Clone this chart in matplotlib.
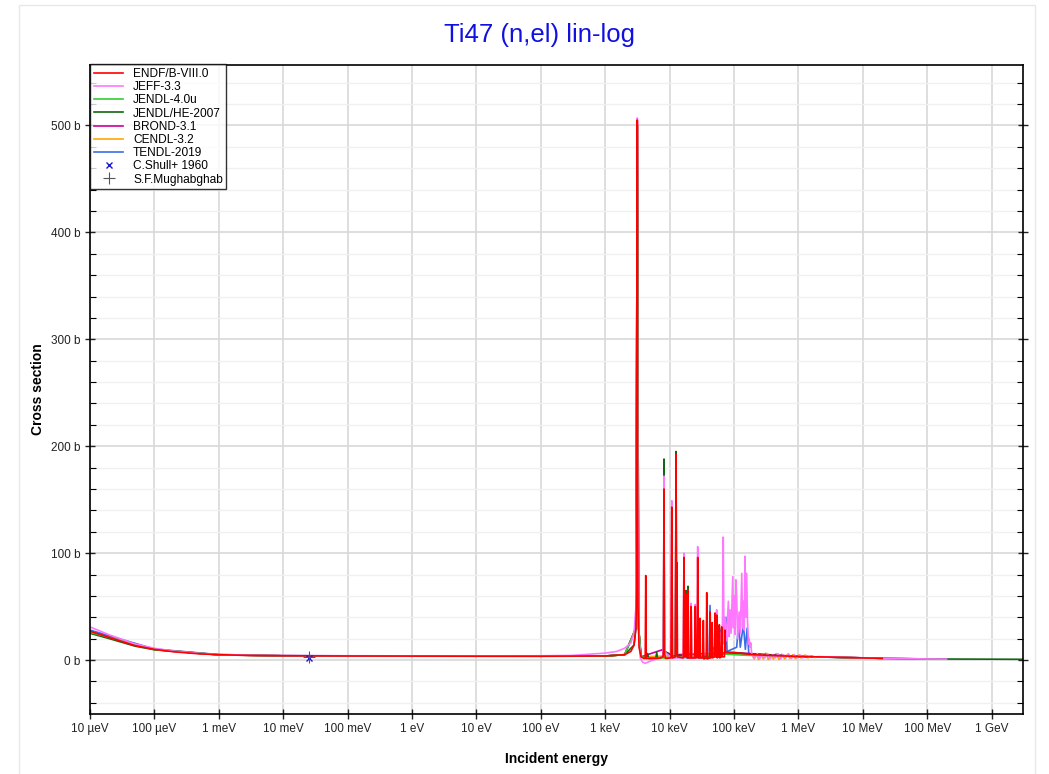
import matplotlib
matplotlib.use("Agg")
import matplotlib.pyplot as plt
from matplotlib.patches import Rectangle
from matplotlib.ticker import MultipleLocator, FixedLocator, FuncFormatter

plt.rcParams['font.family'] = ['Liberation Sans', 'DejaVu Sans']

# ---- data (energy in eV, cross section in barn) ----
endf_e = [1e-5, 2e-5, 5e-5, 1e-4, 2e-4, 5e-4, 1e-3, 3e-3, 1e-2, 1e-1, 1, 10, 100, 1e3, 2e3, 2.5e3, 2.8e3,
          3.0e3, 3.08e3, 3.12e3, 3.15e3, 3.18e3, 3.23e3, 3.35e3, 3.6e3, 4.0e3, 4.18e3, 4.26e3, 4.34e3,
          5.0e3, 7.0e3, 7.9e3, 8.05e3, 8.18e3, 8.3e3, 8.6e3, 10.5e3, 10.8e3, 11.1e3, 12.3e3, 12.6e3,
          12.8e3, 13.0e3, 13.25e3, 16.3e3, 16.7e3, 17.1e3, 17.7e3, 18.0e3, 18.4e3, 18.9e3, 19.3e3,
          19.7e3, 21.2e3, 21.6e3, 22.0e3, 24.5e3, 25.0e3, 25.5e3, 26.8e3, 27.3e3, 27.8e3, 29.0e3,
          29.6e3, 30.2e3, 32.8e3, 33.4e3, 34.0e3, 37.0e3, 37.7e3, 38.4e3, 41.6e3, 42.4e3, 43.2e3,
          45.0e3, 45.8e3, 46.6e3, 49.8e3, 50.7e3, 51.6e3, 52.8e3, 53.8e3, 54.8e3, 58.0e3, 59.1e3,
          60.2e3, 63.2e3, 64.4e3, 65.6e3, 71.0e3, 72.4e3, 73.8e3, 1e5, 2e5, 5e5, 1e6, 3e6, 1e7, 2e7]
endf_xs = [27, 21, 13.5, 10, 7.7, 5.8, 5.0, 4.3, 4.0, 3.8, 3.7, 3.6, 3.6, 3.8, 5, 8, 14,
           30, 70, 160, 505, 160, 50, 12, 3, 1.5, 1.5, 79, 1.5,
           1.5, 1.8, 3, 10, 160, 8, 1.5, 2, 143, 2, 3, 192,
           5, 91, 3, 2, 96, 3, 3, 62, 3, 2, 66,
           2, 2, 50, 2, 2, 50, 2, 3, 96, 2, 2,
           39, 2, 2, 37, 1, 2, 63, 1, 2, 45, 2,
           3, 35, 2, 3, 44, 3, 3, 42, 2, 3, 33,
           2, 3, 31, 3, 3, 28, 7.5, 7, 5, 4, 3.3, 2.8, 2.0, 1.6]

jeff_e = [1e-5, 2e-5, 5e-5, 1e-4, 2e-4, 5e-4, 1e-3, 3e-3, 1e-2, 1e-1, 1, 10, 100, 300, 1e3, 1.5e3, 2e3,
          2.5e3, 2.8e3, 3.0e3, 3.1e3, 3.15e3, 3.2e3, 3.3e3, 3.5e3, 3.8e3, 4.2e3, 5.0e3, 6.5e3, 7.8e3,
          8.05e3, 8.18e3, 8.3e3, 10.5e3, 10.8e3, 11.1e3, 16.3e3, 16.7e3, 17.1e3, 21.2e3, 21.6e3, 22.0e3,
          24.5e3, 25.0e3, 25.5e3, 26.8e3, 27.3e3, 27.8e3, 52.5e3, 53.8e3, 55e3, 60e3, 66e3, 68e3, 70e3,
          72.6e3, 76e3, 81.7e3, 84e3, 86.7e3, 90e3, 95.5e3, 98e3, 101e3, 104e3, 107e3, 110e3, 114e3,
          120e3, 125e3, 132e3, 136e3, 140e3, 144e3, 148e3, 152e3, 157e3, 162e3, 168e3, 172e3, 177e3,
          182e3, 188e3, 195e3, 210e3, 230e3, 250e3, 270e3, 300e3, 330e3, 360e3, 400e3, 440e3, 480e3,
          530e3, 580e3, 640e3, 700e3, 780e3, 860e3, 950e3, 1.05e6, 1.15e6, 1.3e6, 1.45e6, 1.6e6, 1.8e6,
          2e6, 5e6, 2e7, 1e8, 2e8]
jeff_xs = [31, 23.5, 15, 11, 8.3, 6.2, 5.3, 4.5, 4.2, 4.0, 3.9, 3.9, 4.0, 4.3, 6.5, 8, 11,
           16, 25, 50, 150, 507, 150, 30, 2, -2, -3, -1, 1.5, 3,
           15, 172, 8, 2, 149, 2, 2, 100, 3, 2, 53, 2,
           2, 52, 2, 3, 106, 3, 10, 47, 12, 20, 30, 115, 15,
           40, 18, 55, 22, 47, 25, 78, 30, 60, 24, 75, 59, 20,
           45, 25, 81, 30, 55, 28, 97, 40, 81, 37, 15, 20, 12,
           16, 6, 4, 2, 6, 1, 5, 2, 6, 1, 5, 2, 6,
           1, 5, 2, 6, 1.5, 5, 2, 5, 2, 4.5, 2.5, 4, 2.5,
           3.2, 2.6, 1.6, 1.0, 0.9]

jendl4_e = [1e-5, 1e-4, 1e-3, 1e-2, 1, 1e3, 2e3, 3.0e3, 3.15e3, 3.3e3, 3.6e3, 5e3, 8e3,
            75e3, 1e5, 1.5e5, 1e6, 1e7, 2e7]
jendl4_xs = [26, 9.8, 4.9, 4.0, 3.7, 3.8, 5, 30, 500, 30, 3, 1.5, 2,
             5.5, 5, 4.5, 3.3, 2.0, 1.6]

jendlhe_e = [1e-5, 2e-5, 5e-5, 1e-4, 1e-3, 1e-2, 1, 100, 1e3, 2e3, 2.8e3, 3.0e3, 3.15e3, 3.3e3, 3.6e3,
             4.4e3, 4.56e3, 4.7e3, 6.1e3, 6.3e3, 6.5e3, 7.9e3, 8.05e3, 8.18e3, 8.3e3, 12.3e3, 12.6e3,
             12.8e3, 17.7e3, 18.0e3, 18.4e3, 18.9e3, 19.3e3, 19.7e3, 1e5, 1e6, 1e7, 2e7, 1e8, 1e9, 3e9]
jendlhe_xs = [25, 20, 13, 9.6, 4.8, 3.9, 3.6, 3.5, 3.7, 5, 14, 30, 500, 30, 3,
              1.5, 6, 1.5, 1.5, 7, 1.5, 3, 10, 188, 8, 3, 195,
              5, 3, 65, 3, 2, 69, 2, 6.5, 3.3, 2.0, 1.6, 1.0, 0.8, 0.7]

brond_e = [1e-5, 1e-4, 1e-3, 1e-2, 1, 1e3, 2e3, 3.0e3, 3.15e3, 3.3e3, 3.6e3, 8.05e3, 8.18e3, 8.3e3,
           12.3e3, 12.6e3, 12.8e3, 1e5, 1e6, 1e7, 2e7]
brond_xs = [26.5, 9.9, 4.9, 4.0, 3.7, 3.8, 5, 30, 500, 30, 3, 10, 160, 8,
            3, 190, 5, 7, 3.3, 2.0, 1.6]

cendl_e = [1e-5, 1e-4, 1e-3, 1e-2, 1, 1e3, 2e3, 3.0e3, 3.15e3, 3.3e3, 3.6e3, 1e5, 190e3, 205e3,
           220e3, 240e3, 260e3, 285e3, 310e3, 340e3, 375e3, 410e3, 450e3, 500e3, 550e3, 610e3,
           670e3, 740e3, 820e3, 900e3, 1e6, 1.1e6, 1.25e6, 1.4e6, 1.6e6, 1.8e6, 2e6, 1e7, 2e7]
cendl_xs = [26, 9.8, 4.9, 4.0, 3.7, 3.8, 5, 30, 500, 30, 3, 6, 5, 1,
            6, 0.5, 5.5, 1, 6.5, 0.5, 5, 1, 6, 0.5, 5.5, 1,
            5, 1.5, 5, 1.5, 4.5, 2, 4.5, 2, 4, 2.5, 3, 2.0, 1.6]

tendl_e = [1e-5, 1e-4, 1e-3, 1e-2, 1, 1e3, 2e3, 3.0e3, 3.15e3, 3.3e3, 3.6e3, 41e3, 42.4e3, 44e3,
           48e3, 75e3, 78e3, 110e3, 118e3, 125e3, 140e3, 150e3, 160e3, 170e3, 1e6, 1e7, 2e7, 1e8, 2e8]
tendl_xs = [28, 10.3, 5.1, 4.1, 3.7, 3.8, 5, 30, 500, 30, 3, 2, 51, 2,
            10, 40, 8, 12, 35, 12, 33, 10, 30, 5, 3.3, 2.0, 1.6, 1.0, 0.9]

shull_e = [0.0253]
shull_xs = [2.0]
mugh_e = [0.0253]
mugh_xs = [3.3]

libraries = [
    ("TENDL-2019", tendl_e, tendl_xs, "#3a6ee8"),
    ("CENDL-3.2", cendl_e, cendl_xs, "#ffa500"),
    ("BROND-3.1", brond_e, brond_xs, "#cc0099"),
    ("JENDL/HE-2007", jendlhe_e, jendlhe_xs, "#116611"),
    ("JENDL-4.0u", jendl4_e, jendl4_xs, "#33cc33"),
    ("JEFF-3.3", jeff_e, jeff_xs, "#ff77ff"),
    ("ENDF/B-VIII.0", endf_e, endf_xs, "#ff0000"),
]
legend_order = ["ENDF/B-VIII.0", "JEFF-3.3", "JENDL-4.0u", "JENDL/HE-2007",
                "BROND-3.1", "CENDL-3.2", "TENDL-2019", "C.Shull+ 1960", "S.F.Mughabghab"]

tick_pos = [1e-5, 1e-4, 1e-3, 1e-2, 1e-1, 1, 10, 100, 1e3, 1e4, 1e5, 1e6, 1e7, 1e8, 1e9]
tick_lab = ["10 µeV", "100 µeV", "1 meV", "10 meV", "100 meV", "1 eV", "10 eV", "100 eV",
            "1 keV", "10 keV", "100 keV", "1 MeV", "10 MeV", "100 MeV", "1 GeV"]

# ---- figure ----
fig = plt.figure(figsize=(10.49, 7.74), dpi=100)
ax = fig.add_axes([90 / 1049, 1 - 713.5 / 774, (1023 - 90) / 1049, (713.5 - 64.5) / 774])

handles = {}
for name, e, xs, color in libraries:
    line, = ax.plot(e, xs, color=color, lw=1.2, label=name)
    handles[name] = line

handles["C.Shull+ 1960"], = ax.plot(shull_e, shull_xs, ls="none", marker="x", ms=5, mew=1,
                                    color="#1a1acc", label="C.Shull+ 1960", zorder=5)
handles["S.F.Mughabghab"], = ax.plot(mugh_e, mugh_xs, ls="none", marker="+", ms=8, mew=0.8,
                                     color="#555555", label="S.F.Mughabghab", zorder=5)

ax.set_xscale("log")
ax.set_xlim(1e-5, 3.07e9)
ax.set_ylim(-50, 557)

ax.xaxis.set_major_locator(FixedLocator(tick_pos))
ax.set_xticklabels(tick_lab)
ax.xaxis.set_minor_locator(FixedLocator([]))
ax.yaxis.set_major_locator(MultipleLocator(100))
ax.yaxis.set_minor_locator(MultipleLocator(20))
ax.yaxis.set_major_formatter(FuncFormatter(lambda v, p: "%d b" % v))

ax.grid(True, which="major", color="#d8d8d8", lw=1.2)
ax.grid(True, which="minor", axis="y", color="#f0f0f0", lw=1.0)
ax.set_axisbelow(True)

ax.tick_params(axis="both", which="major", direction="inout", length=7, width=1,
               labelsize=8.5, colors="#222222")
ax.tick_params(axis="y", which="minor", direction="in", length=4, width=0.8, right=True)
ax.tick_params(axis="y", which="major", right=True)
for s in ax.spines.values():
    s.set_linewidth(1.2)

ax.set_xlabel("Incident energy", fontsize=10, fontweight="bold", labelpad=12)
ax.set_ylabel("Cross section", fontsize=10, fontweight="bold", labelpad=4)
fig.text(540 / 1049, 1 - 35 / 774, "Ti47 (n,el) lin-log", ha="center", va="center",
         fontsize=18.5, color="#1010e0")

leg = ax.legend([handles[n] for n in legend_order], legend_order, loc="upper left",
                borderaxespad=0, fontsize=8.6, frameon=True, fancybox=False,
                handlelength=2.5, handletextpad=0.8, labelspacing=0.1, borderpad=0.3)
leg.get_frame().set_edgecolor("black")
leg.get_frame().set_linewidth(1)

fig.patches.append(Rectangle((19 / 1049, -0.01), (1035 - 19) / 1049, 1.01 - 5 / 774,
                             transform=fig.transFigure, fill=False, ec="#e8e8e8", lw=1))

fig.savefig("out.png", dpi=100)
